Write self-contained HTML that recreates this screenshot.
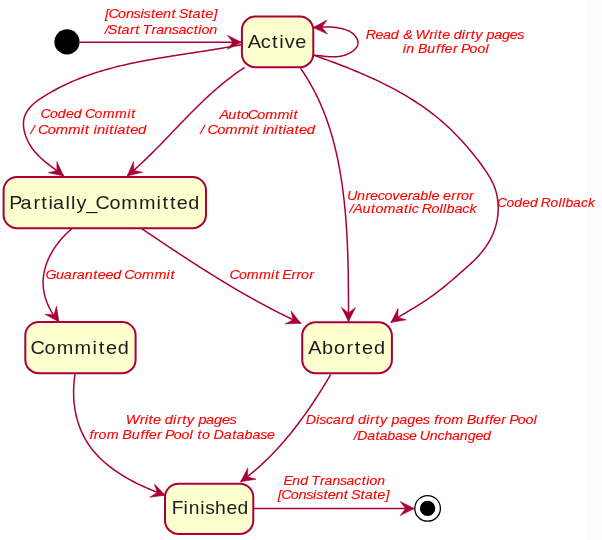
<!DOCTYPE html>
<html><head><meta charset="utf-8"><style>
html,body{margin:0;padding:0;background:#fff;}
svg{display:block;will-change:transform;}
.e{fill:none;stroke:#A80036;stroke-width:1.5;stroke-linejoin:round;}
.ah{fill:#A80036;stroke:#A80036;stroke-width:0.6;stroke-linejoin:miter;}
.st{fill:#FEFECE;stroke:#A80036;stroke-width:2;}
.lb{font-family:"Liberation Sans",sans-serif;font-style:italic;font-size:13.5px;fill:#FF0000;stroke:#FF0000;stroke-width:0.12px;}
.sn{font-family:"Liberation Sans",sans-serif;font-size:18.2px;fill:#1c1c1c;}
</style></head><body>
<svg width="602" height="540" viewBox="0 0 602 540">
<g>
<rect x="0" y="0" width="602" height="540" fill="#fff"/>
<rect x="586" y="0" width="16" height="540" fill="#FCFCFC"/><circle cx="67.0" cy="41.9" r="12.6" fill="#000"/><circle cx="427.6" cy="508.4" r="12.8" fill="#fff" stroke="#000" stroke-width="1.3"/><circle cx="427.6" cy="508.4" r="7.7" fill="#000"/>
<path d="M80.00,42.20 C106.90,42.22 214.50,42.28 241.40,42.30" class="e"/>
<polygon points="241.4,42.3 227.4,49.3 232.9,42.3 227.4,35.3" class="ah"/>
<path d="M241.40,44.60 L239.39,45.00 L237.38,45.40 L235.36,45.78 L233.34,46.17 L231.32,46.54 L229.29,46.91 L227.26,47.28 L225.23,47.63 L223.19,47.99 L221.15,48.34 L219.11,48.68 L217.07,49.02 L215.02,49.36 L212.97,49.69 L210.92,50.02 L208.87,50.35 L206.81,50.67 L204.76,51.00 L202.70,51.32 L200.64,51.63 L198.58,51.95 L196.51,52.27 L194.45,52.58 L192.39,52.89 L190.32,53.21 L188.25,53.52 L186.19,53.84 L184.12,54.15 L182.05,54.47 L179.98,54.79 L177.91,55.10 L175.85,55.42 L173.78,55.75 L171.71,56.07 L169.64,56.40 L167.57,56.73 L165.50,57.06 L163.44,57.40 L161.37,57.74 L159.31,58.09 L157.24,58.44 L155.18,58.80 L153.12,59.16 L151.06,59.52 L149.00,59.89 L146.94,60.27 L144.89,60.65 L142.83,61.04 L140.78,61.44 L138.73,61.85 L136.68,62.26 L134.64,62.68 L132.60,63.10 L130.56,63.54 L128.52,63.99 L126.49,64.44 L124.46,64.90 L122.43,65.37 L120.40,65.86 L118.38,66.35 L116.36,66.85 L114.35,67.37 L112.34,67.89 L110.33,68.43 L108.33,68.98 L106.33,69.54 L104.33,70.11 L102.34,70.69 L100.36,71.29 L98.38,71.90 L96.40,72.52 L94.43,73.16 L92.46,73.81 L90.50,74.48 L88.54,75.16 L86.59,75.86 L84.64,76.57 L82.70,77.29 L80.77,78.04 L78.84,78.79 L76.92,79.57 L75.00,80.36 L73.09,81.17 L71.18,82.00 L69.29,82.84 L67.39,83.70 L65.51,84.58 L63.63,85.48 L61.76,86.40 L59.89,87.33 L58.04,88.29 L56.19,89.26 L54.34,90.26 L52.51,91.27 L50.68,92.31 L48.86,93.37 L47.05,94.44 L45.25,95.54 L43.45,96.66 L41.68,97.81 L39.93,98.99 L38.22,100.20 L36.55,101.44 L34.95,102.72 L33.40,104.05 L31.94,105.42 L30.55,106.84 L29.27,108.31 L28.08,109.84 L27.01,111.43 L26.06,113.08 L25.24,114.80 L24.56,116.59 L24.04,118.45 L23.67,120.38 L23.48,122.40 L23.45,124.49 L23.59,126.64 L23.88,128.83 L24.31,131.03 L24.86,133.22 L25.52,135.39 L26.28,137.51 L27.13,139.56 L28.06,141.53 L29.06,143.44 L30.14,145.28 L31.28,147.05 L32.49,148.77 L33.76,150.43 L35.08,152.04 L36.45,153.59 L37.87,155.11 L39.34,156.58 L40.84,158.01 L42.38,159.40 L43.94,160.76 L45.54,162.10 L47.15,163.41 L48.78,164.69 L50.43,165.96 L52.09,167.22 L53.75,168.46 L55.41,169.70 L57.07,170.94 L58.72,172.17 L60.37,173.40 L61.99,174.65 L63.60,175.90" class="e"/>
<polygon points="63.6,175.9 48.3,172.7 56.9,170.6 56.9,161.7" class="ah"/>
<path d="M244.60,67.50 L243.69,68.09 L242.79,68.69 L241.88,69.29 L240.99,69.89 L240.09,70.50 L239.20,71.11 L238.31,71.73 L237.43,72.35 L236.55,72.97 L235.67,73.60 L234.80,74.23 L233.93,74.86 L233.06,75.50 L232.20,76.14 L231.34,76.79 L230.48,77.44 L229.62,78.09 L228.77,78.75 L227.92,79.41 L227.08,80.07 L226.24,80.73 L225.40,81.40 L224.56,82.08 L223.72,82.75 L222.89,83.43 L222.06,84.11 L221.24,84.79 L220.42,85.48 L219.59,86.17 L218.78,86.86 L217.96,87.56 L217.15,88.26 L216.34,88.96 L215.53,89.66 L214.72,90.37 L213.92,91.08 L213.12,91.79 L212.32,92.50 L211.52,93.22 L210.73,93.94 L209.93,94.66 L209.14,95.38 L208.35,96.11 L207.57,96.83 L206.78,97.56 L206.00,98.30 L205.22,99.03 L204.44,99.77 L203.66,100.50 L202.88,101.24 L202.11,101.98 L201.33,102.73 L200.56,103.47 L199.79,104.22 L199.02,104.97 L198.26,105.72 L197.49,106.47 L196.73,107.22 L195.96,107.98 L195.20,108.73 L194.44,109.49 L193.68,110.25 L192.93,111.01 L192.17,111.77 L191.41,112.53 L190.66,113.29 L189.90,114.06 L189.15,114.82 L188.40,115.59 L187.65,116.36 L186.90,117.12 L186.15,117.89 L185.40,118.66 L184.65,119.43 L183.90,120.20 L183.15,120.98 L182.41,121.75 L181.66,122.52 L180.91,123.30 L180.17,124.07 L179.42,124.84 L178.68,125.62 L177.94,126.39 L177.19,127.17 L176.45,127.94 L175.70,128.72 L174.96,129.50 L174.22,130.27 L173.47,131.05 L172.73,131.82 L171.99,132.60 L171.24,133.38 L170.50,134.15 L169.75,134.93 L169.01,135.70 L168.27,136.48 L167.52,137.25 L166.78,138.03 L166.03,138.80 L165.28,139.58 L164.54,140.35 L163.79,141.12 L163.04,141.89 L162.29,142.66 L161.55,143.43 L160.80,144.20 L160.05,144.97 L159.29,145.74 L158.54,146.51 L157.79,147.27 L157.04,148.04 L156.28,148.80 L155.53,149.56 L154.77,150.33 L154.01,151.09 L153.25,151.85 L152.49,152.60 L151.73,153.36 L150.97,154.12 L150.20,154.87 L149.44,155.62 L148.67,156.37 L147.91,157.12 L147.14,157.87 L146.36,158.62 L145.59,159.36 L144.82,160.10 L144.04,160.84 L143.27,161.58 L142.49,162.32 L141.71,163.06 L140.92,163.79 L140.14,164.52 L139.35,165.25 L138.56,165.98 L137.77,166.70 L136.98,167.42 L136.19,168.14 L135.39,168.86 L134.59,169.58 L133.79,170.29 L132.99,171.00 L132.18,171.71 L131.37,172.41 L130.56,173.12 L129.75,173.82 L128.94,174.51 L128.12,175.21 L127.30,175.90" class="e"/>
<polygon points="127.3,175.9 133.5,161.5 133.8,170.4 142.5,172.2" class="ah"/>
<path d="M300.40,68.10 L301.42,69.56 L302.42,71.03 L303.41,72.50 L304.38,73.98 L305.34,75.47 L306.28,76.96 L307.21,78.46 L308.12,79.97 L309.02,81.48 L309.90,83.00 L310.78,84.53 L311.63,86.06 L312.48,87.59 L313.31,89.14 L314.12,90.69 L314.93,92.24 L315.72,93.80 L316.49,95.36 L317.26,96.94 L318.01,98.51 L318.74,100.09 L319.47,101.68 L320.18,103.27 L320.88,104.87 L321.57,106.47 L322.25,108.08 L322.91,109.69 L323.56,111.30 L324.20,112.92 L324.83,114.55 L325.45,116.18 L326.05,117.81 L326.65,119.45 L327.23,121.10 L327.80,122.74 L328.36,124.40 L328.91,126.05 L329.45,127.71 L329.98,129.37 L330.50,131.04 L331.01,132.71 L331.51,134.39 L331.99,136.07 L332.47,137.75 L332.94,139.43 L333.40,141.12 L333.84,142.81 L334.28,144.51 L334.71,146.21 L335.13,147.91 L335.55,149.62 L335.95,151.32 L336.34,153.03 L336.73,154.75 L337.10,156.46 L337.47,158.18 L337.83,159.90 L338.18,161.63 L338.52,163.35 L338.86,165.08 L339.18,166.81 L339.50,168.55 L339.81,170.28 L340.12,172.02 L340.41,173.76 L340.70,175.50 L340.98,177.24 L341.26,178.99 L341.52,180.73 L341.79,182.48 L342.04,184.23 L342.29,185.98 L342.53,187.73 L342.76,189.48 L342.99,191.24 L343.21,192.99 L343.43,194.75 L343.64,196.51 L343.84,198.27 L344.04,200.03 L344.24,201.79 L344.42,203.55 L344.60,205.32 L344.78,207.08 L344.95,208.84 L345.12,210.61 L345.28,212.37 L345.43,214.14 L345.58,215.91 L345.73,217.68 L345.87,219.45 L346.00,221.21 L346.13,222.98 L346.26,224.75 L346.38,226.52 L346.49,228.29 L346.61,230.07 L346.71,231.84 L346.82,233.61 L346.92,235.38 L347.01,237.15 L347.11,238.92 L347.19,240.70 L347.28,242.47 L347.36,244.24 L347.43,246.01 L347.51,247.78 L347.58,249.55 L347.64,251.32 L347.71,253.10 L347.77,254.87 L347.82,256.64 L347.88,258.41 L347.93,260.18 L347.97,261.94 L348.02,263.71 L348.06,265.48 L348.10,267.25 L348.14,269.01 L348.17,270.78 L348.21,272.55 L348.24,274.31 L348.26,276.07 L348.29,277.84 L348.31,279.60 L348.34,281.36 L348.36,283.12 L348.37,284.88 L348.39,286.64 L348.40,288.39 L348.42,290.15 L348.43,291.90 L348.44,293.66 L348.45,295.41 L348.46,297.16 L348.47,298.91 L348.47,300.65 L348.48,302.40 L348.48,304.14 L348.49,305.89 L348.49,307.63 L348.49,309.37 L348.49,311.11 L348.50,312.84 L348.50,314.58 L348.50,316.31 L348.50,318.04 L348.50,319.77 L348.50,321.50" class="e"/>
<polygon points="348.5,321.5 341.5,307.5 348.5,313.0 355.5,307.5" class="ah"/>
<path d="M313.80,55.20 L316.40,56.13 L319.01,57.06 L321.62,58.00 L324.23,58.94 L326.84,59.89 L329.44,60.85 L332.05,61.82 L334.66,62.79 L337.27,63.78 L339.87,64.77 L342.47,65.78 L345.07,66.79 L347.66,67.82 L350.26,68.86 L352.84,69.90 L355.43,70.96 L358.00,72.04 L360.58,73.12 L363.14,74.22 L365.70,75.34 L368.25,76.47 L370.80,77.61 L373.34,78.77 L375.87,79.94 L378.39,81.13 L380.90,82.34 L383.40,83.56 L385.89,84.81 L388.37,86.07 L390.84,87.34 L393.30,88.64 L395.75,89.96 L398.19,91.30 L400.61,92.65 L403.02,94.03 L405.41,95.43 L407.79,96.85 L410.16,98.30 L412.51,99.76 L414.85,101.25 L417.17,102.76 L419.47,104.30 L421.76,105.86 L424.03,107.44 L426.28,109.06 L428.52,110.69 L430.73,112.36 L432.93,114.04 L435.10,115.76 L437.26,117.51 L439.40,119.28 L441.51,121.08 L443.61,122.91 L445.68,124.76 L447.74,126.65 L449.77,128.55 L451.78,130.49 L453.77,132.45 L455.74,134.43 L457.68,136.43 L459.61,138.46 L461.51,140.51 L463.40,142.58 L465.26,144.67 L467.10,146.78 L468.92,148.91 L470.72,151.06 L472.50,153.23 L474.25,155.41 L475.99,157.61 L477.70,159.83 L479.39,162.06 L481.06,164.30 L482.70,166.56 L484.32,168.84 L485.90,171.13 L487.42,173.45 L488.88,175.80 L490.27,178.18 L491.57,180.60 L492.79,183.06 L493.89,185.56 L494.89,188.11 L495.75,190.71 L496.49,193.36 L497.09,196.05 L497.56,198.79 L497.91,201.55 L498.13,204.34 L498.22,207.14 L498.19,209.96 L498.04,212.78 L497.77,215.59 L497.39,218.39 L496.89,221.17 L496.27,223.93 L495.54,226.65 L494.70,229.33 L493.75,231.97 L492.69,234.55 L491.53,237.07 L490.27,239.53 L488.91,241.93 L487.47,244.28 L485.94,246.57 L484.33,248.81 L482.64,250.99 L480.89,253.13 L479.07,255.22 L477.20,257.26 L475.27,259.26 L473.30,261.22 L471.29,263.13 L469.24,265.02 L467.18,266.88 L465.10,268.74 L463.02,270.58 L460.93,272.42 L458.84,274.26 L456.75,276.09 L454.65,277.91 L452.54,279.72 L450.42,281.51 L448.29,283.29 L446.16,285.06 L444.00,286.82 L441.84,288.55 L439.66,290.27 L437.47,291.96 L435.26,293.63 L433.03,295.29 L430.78,296.91 L428.51,298.51 L426.22,300.09 L423.91,301.63 L421.57,303.14 L419.21,304.63 L416.84,306.09 L414.45,307.54 L412.05,308.97 L409.65,310.40 L407.25,311.83 L404.85,313.27 L402.47,314.72 L400.10,316.19 L397.76,317.69 L395.44,319.22 L393.15,320.79 L390.90,322.40" class="e"/>
<polygon points="390.9,322.4 398.1,308.5 397.8,317.4 406.3,319.8" class="ah"/>
<path d="M71.70,228.90 L71.16,229.36 L70.62,229.82 L70.08,230.29 L69.54,230.77 L69.01,231.24 L68.48,231.73 L67.95,232.21 L67.43,232.71 L66.91,233.20 L66.39,233.70 L65.88,234.21 L65.37,234.72 L64.87,235.23 L64.36,235.75 L63.87,236.28 L63.37,236.80 L62.88,237.33 L62.39,237.87 L61.91,238.41 L61.43,238.95 L60.96,239.50 L60.49,240.05 L60.02,240.60 L59.56,241.16 L59.11,241.72 L58.65,242.29 L58.21,242.86 L57.76,243.43 L57.33,244.01 L56.90,244.59 L56.47,245.17 L56.05,245.76 L55.63,246.35 L55.22,246.94 L54.81,247.54 L54.41,248.13 L54.02,248.74 L53.63,249.34 L53.24,249.95 L52.86,250.56 L52.49,251.18 L52.12,251.79 L51.76,252.41 L51.41,253.03 L51.06,253.66 L50.72,254.29 L50.39,254.91 L50.06,255.55 L49.73,256.18 L49.42,256.82 L49.11,257.46 L48.81,258.10 L48.51,258.74 L48.22,259.39 L47.94,260.04 L47.67,260.69 L47.40,261.34 L47.14,261.99 L46.89,262.65 L46.64,263.31 L46.40,263.97 L46.17,264.63 L45.95,265.29 L45.73,265.96 L45.53,266.62 L45.33,267.29 L45.14,267.96 L44.95,268.63 L44.78,269.30 L44.61,269.97 L44.45,270.65 L44.30,271.32 L44.16,272.00 L44.02,272.68 L43.90,273.36 L43.78,274.04 L43.68,274.72 L43.58,275.40 L43.49,276.08 L43.41,276.76 L43.34,277.45 L43.27,278.13 L43.22,278.82 L43.18,279.50 L43.14,280.19 L43.12,280.88 L43.10,281.56 L43.10,282.25 L43.10,282.94 L43.11,283.63 L43.13,284.31 L43.16,285.00 L43.20,285.69 L43.25,286.38 L43.31,287.06 L43.38,287.75 L43.45,288.44 L43.54,289.12 L43.63,289.81 L43.73,290.49 L43.84,291.18 L43.96,291.86 L44.09,292.54 L44.23,293.23 L44.38,293.91 L44.53,294.59 L44.70,295.26 L44.87,295.94 L45.05,296.62 L45.24,297.29 L45.44,297.96 L45.64,298.64 L45.86,299.30 L46.08,299.97 L46.31,300.64 L46.55,301.30 L46.80,301.97 L47.06,302.63 L47.32,303.29 L47.60,303.94 L47.88,304.60 L48.17,305.25 L48.46,305.90 L48.77,306.54 L49.08,307.19 L49.40,307.83 L49.73,308.47 L50.07,309.11 L50.41,309.74 L50.77,310.37 L51.13,311.00 L51.49,311.62 L51.87,312.24 L52.25,312.86 L52.65,313.48 L53.04,314.09 L53.45,314.70 L53.86,315.30 L54.29,315.90 L54.71,316.50 L55.15,317.09 L55.59,317.68 L56.04,318.27 L56.50,318.85 L56.97,319.43 L57.44,320.00 L57.92,320.57 L58.41,321.14 L58.90,321.70" class="e"/>
<polygon points="58.9,321.7 45.1,314.3 54.0,314.8 56.5,306.2" class="ah"/>
<path d="M141.60,228.60 L142.63,229.29 L143.66,229.99 L144.69,230.68 L145.72,231.37 L146.75,232.07 L147.78,232.76 L148.81,233.45 L149.85,234.15 L150.88,234.84 L151.91,235.53 L152.94,236.22 L153.97,236.92 L155.01,237.61 L156.04,238.30 L157.07,238.99 L158.11,239.69 L159.14,240.38 L160.18,241.07 L161.21,241.76 L162.24,242.45 L163.28,243.14 L164.31,243.83 L165.35,244.52 L166.39,245.21 L167.42,245.90 L168.46,246.59 L169.50,247.28 L170.53,247.97 L171.57,248.66 L172.61,249.34 L173.65,250.03 L174.69,250.72 L175.73,251.40 L176.77,252.09 L177.81,252.77 L178.85,253.46 L179.89,254.14 L180.93,254.82 L181.97,255.51 L183.01,256.19 L184.06,256.87 L185.10,257.55 L186.14,258.23 L187.19,258.91 L188.23,259.59 L189.28,260.27 L190.32,260.94 L191.37,261.62 L192.41,262.30 L193.46,262.97 L194.51,263.65 L195.56,264.32 L196.61,264.99 L197.65,265.67 L198.70,266.34 L199.75,267.01 L200.81,267.68 L201.86,268.35 L202.91,269.01 L203.96,269.68 L205.01,270.35 L206.07,271.01 L207.12,271.67 L208.18,272.34 L209.23,273.00 L210.29,273.66 L211.35,274.32 L212.40,274.98 L213.46,275.64 L214.52,276.29 L215.58,276.95 L216.64,277.60 L217.70,278.25 L218.76,278.91 L219.82,279.56 L220.89,280.21 L221.95,280.86 L223.01,281.50 L224.08,282.15 L225.14,282.79 L226.21,283.44 L227.28,284.08 L228.34,284.72 L229.41,285.36 L230.48,286.00 L231.55,286.63 L232.62,287.27 L233.69,287.90 L234.77,288.54 L235.84,289.17 L236.91,289.80 L237.99,290.43 L239.06,291.05 L240.14,291.68 L241.22,292.30 L242.30,292.92 L243.37,293.54 L244.45,294.16 L245.54,294.78 L246.62,295.40 L247.70,296.01 L248.78,296.63 L249.87,297.24 L250.95,297.85 L252.04,298.45 L253.12,299.06 L254.21,299.66 L255.30,300.27 L256.39,300.87 L257.48,301.47 L258.57,302.07 L259.66,302.66 L260.76,303.26 L261.85,303.85 L262.95,304.44 L264.04,305.03 L265.14,305.61 L266.24,306.20 L267.34,306.78 L268.44,307.36 L269.54,307.94 L270.64,308.52 L271.74,309.09 L272.85,309.67 L273.95,310.24 L275.06,310.81 L276.16,311.37 L277.27,311.94 L278.38,312.50 L279.49,313.06 L280.60,313.62 L281.72,314.18 L282.83,314.73 L283.94,315.28 L285.06,315.83 L286.18,316.38 L287.29,316.93 L288.41,317.47 L289.53,318.01 L290.65,318.55 L291.78,319.09 L292.90,319.62 L294.03,320.16 L295.15,320.69 L296.28,321.21 L297.41,321.74 L298.54,322.26 L299.67,322.78 L300.80,323.30" class="e"/>
<polygon points="300.8,323.3 285.2,323.9 293.1,319.8 291.0,311.1" class="ah"/>
<path d="M75.10,373.90 L74.92,375.03 L74.75,376.16 L74.59,377.30 L74.44,378.43 L74.31,379.57 L74.19,380.71 L74.07,381.85 L73.97,382.99 L73.88,384.13 L73.81,385.27 L73.74,386.41 L73.69,387.56 L73.65,388.70 L73.62,389.84 L73.60,390.98 L73.59,392.12 L73.60,393.26 L73.62,394.40 L73.65,395.54 L73.69,396.67 L73.74,397.81 L73.80,398.94 L73.88,400.08 L73.97,401.21 L74.07,402.33 L74.19,403.46 L74.31,404.58 L74.45,405.70 L74.60,406.82 L74.76,407.94 L74.93,409.05 L75.12,410.16 L75.32,411.27 L75.53,412.37 L75.75,413.47 L75.99,414.56 L76.23,415.65 L76.49,416.74 L76.76,417.82 L77.05,418.90 L77.34,419.97 L77.65,421.04 L77.97,422.11 L78.31,423.17 L78.65,424.22 L79.01,425.27 L79.38,426.31 L79.76,427.34 L80.16,428.37 L80.57,429.40 L80.99,430.42 L81.42,431.43 L81.87,432.43 L82.33,433.43 L82.80,434.42 L83.28,435.40 L83.78,436.38 L84.29,437.35 L84.81,438.31 L85.34,439.26 L85.89,440.21 L86.45,441.15 L87.02,442.08 L87.61,443.00 L88.20,443.91 L88.81,444.81 L89.44,445.71 L90.07,446.60 L90.72,447.48 L91.37,448.35 L92.04,449.21 L92.72,450.07 L93.42,450.92 L94.12,451.76 L94.83,452.59 L95.56,453.41 L96.29,454.23 L97.03,455.04 L97.79,455.84 L98.55,456.63 L99.33,457.42 L100.11,458.20 L100.90,458.97 L101.71,459.73 L102.52,460.49 L103.34,461.23 L104.17,461.97 L105.01,462.71 L105.85,463.43 L106.70,464.15 L107.57,464.86 L108.44,465.57 L109.31,466.27 L110.20,466.96 L111.09,467.64 L111.99,468.32 L112.90,468.98 L113.81,469.65 L114.73,470.30 L115.66,470.95 L116.59,471.59 L117.53,472.23 L118.47,472.86 L119.42,473.48 L120.38,474.09 L121.34,474.70 L122.30,475.30 L123.28,475.90 L124.25,476.49 L125.23,477.07 L126.22,477.64 L127.21,478.21 L128.20,478.78 L129.20,479.33 L130.20,479.88 L131.21,480.43 L132.22,480.97 L133.23,481.50 L134.24,482.03 L135.26,482.55 L136.28,483.06 L137.31,483.57 L138.33,484.07 L139.36,484.57 L140.39,485.06 L141.42,485.54 L142.46,486.02 L143.49,486.50 L144.53,486.96 L145.57,487.43 L146.61,487.88 L147.65,488.33 L148.69,488.78 L149.73,489.22 L150.77,489.65 L151.82,490.08 L152.86,490.51 L153.90,490.93 L154.94,491.34 L155.98,491.75 L157.02,492.15 L158.06,492.55 L159.10,492.94 L160.14,493.33 L161.17,493.71 L162.21,494.09 L163.24,494.47 L164.27,494.83 L165.30,495.20" class="e"/>
<polygon points="165.3,495.2 149.8,497.2 157.3,492.4 154.4,484.0" class="ah"/>
<path d="M330.70,374.50 L330.22,375.32 L329.74,376.13 L329.25,376.94 L328.77,377.76 L328.28,378.57 L327.79,379.38 L327.30,380.19 L326.81,381.01 L326.32,381.82 L325.83,382.63 L325.34,383.44 L324.84,384.25 L324.35,385.05 L323.85,385.86 L323.35,386.67 L322.85,387.48 L322.35,388.28 L321.85,389.09 L321.35,389.89 L320.84,390.69 L320.34,391.50 L319.83,392.30 L319.32,393.10 L318.81,393.90 L318.30,394.70 L317.79,395.50 L317.28,396.29 L316.76,397.09 L316.24,397.88 L315.73,398.68 L315.21,399.47 L314.69,400.27 L314.16,401.06 L313.64,401.85 L313.11,402.64 L312.59,403.43 L312.06,404.21 L311.53,405.00 L311.00,405.79 L310.47,406.57 L309.93,407.35 L309.40,408.14 L308.86,408.92 L308.32,409.70 L307.78,410.48 L307.24,411.25 L306.69,412.03 L306.15,412.80 L305.60,413.58 L305.05,414.35 L304.50,415.12 L303.95,415.89 L303.40,416.66 L302.84,417.43 L302.28,418.19 L301.72,418.96 L301.16,419.72 L300.60,420.48 L300.04,421.24 L299.47,422.00 L298.90,422.76 L298.33,423.51 L297.76,424.27 L297.19,425.02 L296.61,425.77 L296.04,426.52 L295.46,427.27 L294.88,428.02 L294.30,428.76 L293.71,429.51 L293.13,430.25 L292.54,430.99 L291.95,431.73 L291.36,432.47 L290.76,433.20 L290.17,433.94 L289.57,434.67 L288.97,435.40 L288.37,436.13 L287.76,436.85 L287.16,437.58 L286.55,438.30 L285.94,439.02 L285.33,439.74 L284.71,440.46 L284.10,441.18 L283.48,441.89 L282.86,442.60 L282.24,443.31 L281.61,444.02 L280.99,444.73 L280.36,445.43 L279.73,446.13 L279.10,446.83 L278.46,447.53 L277.82,448.23 L277.18,448.92 L276.54,449.61 L275.90,450.31 L275.25,450.99 L274.60,451.68 L273.95,452.36 L273.30,453.04 L272.64,453.72 L271.99,454.40 L271.33,455.08 L270.66,455.75 L270.00,456.42 L269.33,457.09 L268.66,457.75 L267.99,458.42 L267.32,459.08 L266.64,459.74 L265.96,460.40 L265.28,461.05 L264.60,461.70 L263.91,462.35 L263.22,463.00 L262.53,463.65 L261.84,464.29 L261.14,464.93 L260.44,465.57 L259.74,466.20 L259.04,466.84 L258.33,467.47 L257.63,468.09 L256.91,468.72 L256.20,469.34 L255.48,469.96 L254.77,470.58 L254.04,471.19 L253.32,471.81 L252.59,472.42 L251.86,473.02 L251.13,473.63 L250.40,474.23 L249.66,474.83 L248.92,475.42 L248.18,476.02 L247.43,476.61 L246.68,477.20 L245.93,477.78 L245.18,478.36 L244.42,478.94 L243.66,479.52 L242.90,480.10 L242.14,480.67 L241.37,481.23 L240.60,481.80" class="e"/>
<polygon points="240.6,481.8 247.8,467.9 247.5,476.8 256.0,479.2" class="ah"/>
<path d="M253.50,508.50 C280.28,508.50 387.42,508.50 414.20,508.50" class="e"/>
<polygon points="414.2,508.5 400.2,515.5 405.7,508.5 400.2,501.5" class="ah"/>
<path d="M313.80,55.20 L314.46,55.25 L315.13,55.31 L315.79,55.37 L316.46,55.44 L317.13,55.51 L317.81,55.58 L318.48,55.65 L319.16,55.72 L319.84,55.80 L320.52,55.87 L321.20,55.95 L321.88,56.03 L322.56,56.10 L323.25,56.18 L323.93,56.25 L324.62,56.32 L325.31,56.39 L325.99,56.45 L326.68,56.51 L327.37,56.57 L328.06,56.62 L328.75,56.67 L329.44,56.71 L330.13,56.74 L330.82,56.77 L331.51,56.79 L332.20,56.81 L332.89,56.82 L333.58,56.81 L334.27,56.80 L334.96,56.78 L335.65,56.75 L336.33,56.71 L337.02,56.66 L337.71,56.60 L338.39,56.52 L339.08,56.44 L339.76,56.34 L340.44,56.22 L341.12,56.10 L341.80,55.96 L342.48,55.80 L343.15,55.63 L343.83,55.45 L344.50,55.25 L345.17,55.03 L345.84,54.79 L346.50,54.54 L347.17,54.27 L347.83,53.98 L348.49,53.67 L349.14,53.35 L349.78,53.00 L350.41,52.64 L351.04,52.27 L351.65,51.88 L352.24,51.47 L352.81,51.05 L353.37,50.61 L353.90,50.16 L354.41,49.70 L354.90,49.22 L355.36,48.74 L355.78,48.24 L356.18,47.72 L356.54,47.20 L356.87,46.67 L357.16,46.12 L357.41,45.57 L357.62,45.01 L357.79,44.43 L357.91,43.86 L357.98,43.27 L358.00,42.67 L357.98,42.07 L357.90,41.47 L357.77,40.86 L357.60,40.24 L357.39,39.63 L357.13,39.03 L356.83,38.42 L356.50,37.83 L356.14,37.24 L355.74,36.67 L355.31,36.11 L354.86,35.56 L354.38,35.04 L353.87,34.53 L353.35,34.04 L352.81,33.58 L352.26,33.14 L351.69,32.72 L351.10,32.33 L350.50,31.95 L349.88,31.60 L349.26,31.26 L348.62,30.94 L347.98,30.64 L347.32,30.36 L346.66,30.10 L345.99,29.85 L345.31,29.61 L344.63,29.39 L343.94,29.18 L343.26,28.99 L342.57,28.81 L341.87,28.64 L341.18,28.48 L340.49,28.33 L339.80,28.18 L339.11,28.05 L338.43,27.93 L337.75,27.81 L337.07,27.70 L336.39,27.60 L335.72,27.51 L335.05,27.42 L334.37,27.34 L333.71,27.27 L333.04,27.21 L332.37,27.15 L331.70,27.10 L331.04,27.06 L330.37,27.02 L329.71,26.98 L329.04,26.96 L328.38,26.94 L327.71,26.92 L327.04,26.91 L326.38,26.91 L325.71,26.91 L325.04,26.91 L324.37,26.92 L323.70,26.94 L323.02,26.96 L322.35,26.98 L321.67,27.01 L320.99,27.04 L320.31,27.08 L319.62,27.11 L318.93,27.16 L318.24,27.20 L317.55,27.25 L316.85,27.30 L316.15,27.36 L315.44,27.41 L314.73,27.47 L314.02,27.54 L313.30,27.60" class="e"/>
<polygon points="313.3,27.6 327.0,20.1 321.8,27.3 327.5,34.1" class="ah"/>
<rect x="241.9" y="16.6" width="71.4" height="50.6" rx="13.5" ry="13.5" class="st"/>
<rect x="3.6" y="176.9" width="202.4" height="51.29999999999998" rx="13.5" ry="13.5" class="st"/>
<rect x="25.3" y="321.9" width="110.3" height="51.30000000000001" rx="13.5" ry="13.5" class="st"/>
<rect x="302.2" y="322.3" width="89.69999999999999" height="50.89999999999998" rx="13.5" ry="13.5" class="st"/>
<rect x="165" y="483.7" width="88.30000000000001" height="50.19999999999999" rx="13.5" ry="13.5" class="st"/>
<text transform="translate(0,47.9) scale(1.0984,1)" x="225.65 237.36 247.64 254.19 259.20 268.90" y="0" class="sn">Active</text>
<text transform="translate(0,208.5) scale(1.0884,1)" x="8.43 18.94 30.72 37.98 44.56 48.66 60.11 65.22 70.30 79.21 87.80 100.54 111.39 127.61 143.80 149.25 156.18 162.44 172.97" y="0" class="sn">Partially_Committed</text>
<text transform="translate(0,353.7) scale(1.0927,1)" x="27.81 40.80 51.87 68.28 84.73 90.49 97.03 107.83" y="0" class="sn">Commited</text>
<text transform="translate(0,353.8) scale(1.0937,1)" x="281.85 294.45 305.31 316.78 324.42 331.02 341.87" y="0" class="sn">Aborted</text>
<text transform="translate(0,513.6) scale(1.0607,1)" x="161.90 172.96 177.89 188.85 193.46 202.75 213.45 224.02" y="0" class="sn">Finished</text>
<text transform="translate(0,18.4) scale(1.0734,1)" x="97.84 101.04 109.99 117.28 124.46 130.85 133.79 140.57 144.59 151.86 159.74 163.87 166.54 175.44 179.35 187.18 191.20 198.85" y="0" class="lb">[Consistent State]</text>
<text transform="translate(0,33.5) scale(1.0645,1)" x="98.37 101.30 110.28 114.23 122.02 126.97 131.12 133.98 142.42 146.71 154.14 161.40 167.58 174.93 181.96 186.17 189.23 196.59" y="0" class="lb">/Start Transaction</text>
<text transform="translate(0,38.9) scale(1.0639,1)" x="343.80 353.03 360.12 367.38 374.94 379.00 387.78 390.57 403.43 407.94 411.57 415.59 422.89 426.47 434.08 437.60 442.51 446.70 453.56 457.34 464.48 471.86 479.20 486.26" y="0" class="lb">Read &amp; Write dirty pages</text>
<text transform="translate(0,52.5) scale(1.0461,1)" x="385.02 388.46 396.20 399.56 408.50 416.87 421.24 424.99 432.95 437.66 440.69 448.89 456.39 464.05" y="0" class="lb">in Buffer Pool</text>
<text transform="translate(0,118.4) scale(1.0455,1)" x="38.66 47.89 55.35 63.07 70.51 78.28 81.27 90.50 98.24 110.03 121.67 125.48" y="0" class="lb">Coded Commit</text>
<text transform="translate(0,133.5) scale(1.0936,1)" x="27.97 31.95 34.73 43.69 51.09 62.44 73.79 77.47 81.66 85.49 88.69 96.22 99.90 104.15 107.16 115.01 119.07 126.24" y="0" class="lb">/ Commit initiated</text>
<text transform="translate(0,119.3) scale(1.0645,1)" x="206.11 214.52 222.48 226.43 232.80 241.77 249.21 260.66 272.02 275.62" y="0" class="lb">AutoCommit</text>
<text transform="translate(0,134.3) scale(1.0936,1)" x="183.19 187.11 189.83 198.74 206.08 217.36 228.66 232.28 236.41 240.18 243.32 250.79 254.41 258.60 261.55 269.34 273.35 280.45" y="0" class="lb">/ Commit initiated</text>
<text transform="translate(0,199.8) scale(1.0633,1)" x="326.37 335.83 343.64 348.01 355.25 361.64 368.91 375.85 383.52 387.78 395.22 402.70 405.79 413.10 416.72 424.39 429.21 433.52 441.21" y="0" class="lb">Unrecoverable error</text>
<text transform="translate(0,213.3) scale(1.0627,1)" x="328.99 332.52 341.08 349.18 353.27 360.86 372.12 380.09 384.36 387.56 394.19 396.83 406.14 413.63 416.96 420.27 427.60 435.03 441.73" y="0" class="lb">/Automatic Rollback</text>
<text transform="translate(0,206.9) scale(1.0289,1)" x="483.08 492.36 499.87 507.62 515.11 522.89 525.64 535.14 542.74 546.12 549.54 557.03 564.62 571.47" y="0" class="lb">Coded Rollback</text>
<text transform="translate(0,279.2) scale(1.0597,1)" x="42.93 52.83 60.27 68.13 72.49 79.99 88.01 92.15 99.49 106.81 114.48 117.37 126.47 134.07 145.69 157.19 160.92" y="0" class="lb">Guaranteed Commit</text>
<text transform="translate(0,278.8) scale(1.0598,1)" x="216.46 225.45 232.91 244.38 255.76 259.38 263.49 266.29 274.95 279.74 284.03 291.71" y="0" class="lb">Commit Error</text>
<text transform="translate(0,423.8) scale(1.0800,1)" x="116.52 129.36 133.93 137.61 141.67 149.00 152.60 160.24 163.82 168.76 173.00 179.88 183.70 190.83 198.20 205.54 212.60" y="0" class="lb">Write dirty pages</text>
<text transform="translate(0,439) scale(1.0573,1)" x="84.57 88.67 93.16 100.87 112.41 115.68 124.50 132.77 137.06 140.72 148.59 153.21 156.15 164.24 171.64 179.21 182.55 186.89 191.06 198.58 202.04 211.55 219.61 223.72 231.36 238.79 246.15 252.61" y="0" class="lb">from Buffer Pool to Database</text>
<text transform="translate(0,424.1) scale(1.0616,1)" x="287.93 297.60 300.64 307.02 313.46 321.33 325.79 333.47 337.17 344.91 348.54 353.56 357.88 364.85 368.76 376.04 383.56 391.05 398.24 404.69 409.04 413.07 417.49 425.09 436.54 439.73 448.46 456.64 460.86 464.45 472.23 476.79 479.65 487.65 494.96 502.45" y="0" class="lb">Discard dirty pages from Buffer Pool</text>
<text transform="translate(0,439.6) scale(1.0458,1)" x="338.20 341.72 351.09 358.99 362.92 370.42 377.69 384.90 391.21 398.54 401.42 410.94 418.37 424.94 432.25 439.70 447.22 454.65 461.91" y="0" class="lb">/Database Unchanged</text>
<text transform="translate(0,484.7) scale(1.0405,1)" x="272.52 280.97 288.46 296.14 299.08 307.61 311.97 319.50 326.85 333.12 340.58 347.69 351.94 355.07 362.53" y="0" class="lb">End Transaction</text>
<text transform="translate(0,499.2) scale(1.0734,1)" x="258.87 262.02 270.93 278.17 285.31 291.66 294.55 301.29 305.27 312.49 320.33 324.41 327.04 335.90 339.77 347.55 351.53 359.13" y="0" class="lb">[Consistent State]</text>
</g>
</svg>
</body></html>
